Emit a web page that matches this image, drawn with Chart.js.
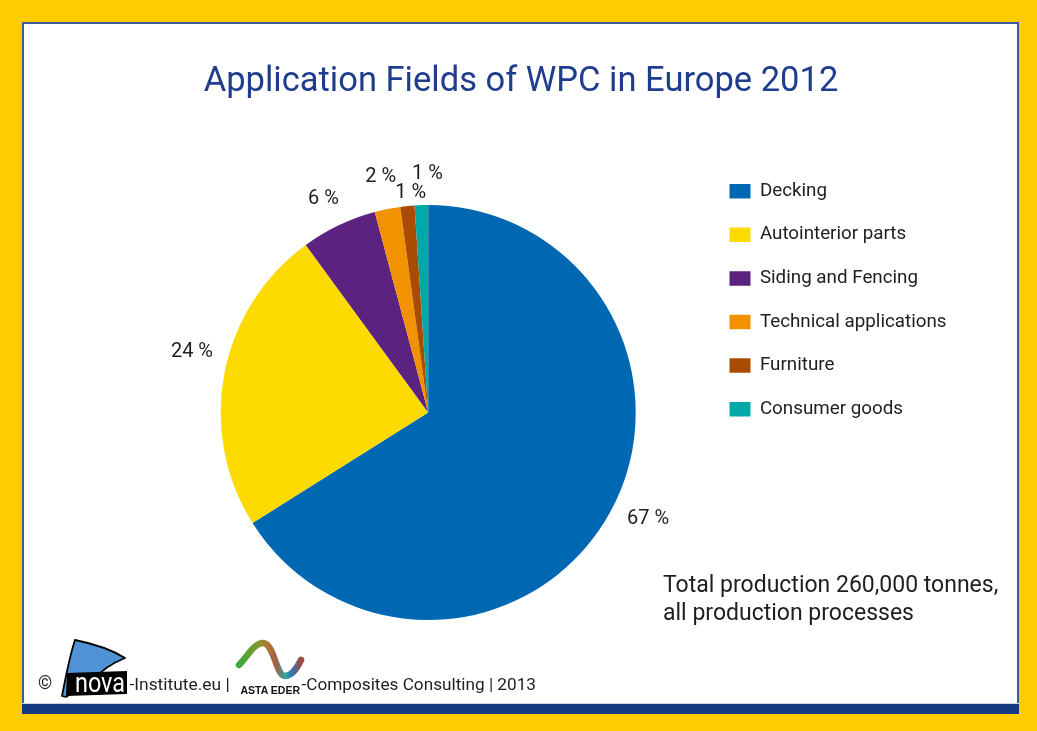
<!DOCTYPE html>
<html>
<head>
<meta charset="utf-8">
<script src="https://cdn.jsdelivr.net/npm/chart.js@4.4.1/dist/chart.umd.min.js"></script>
<style>
  html, body { margin:0; padding:0; width:1037px; height:731px; overflow:hidden; background:#FFCC00; }
  #panel { position:absolute; left:22px; top:22px; width:997px; height:692px; box-sizing:border-box;
           background:#fff; border-left:2px solid #3d5c9c; border-top:2px solid #3d5c9c; border-right:2px solid #3d5c9c; }
  #band { position:absolute; left:22px; top:703px; width:997px; height:11px; background:#163a82; border-top:1px solid #c9cfe0; box-sizing:border-box; }
  #chartWrap { position:absolute; left:0; top:0; width:1037px; height:731px; }
  .txt { position:absolute; font-family:Roboto, sans-serif; color:#1e1e1e; white-space:nowrap; }
</style>
</head>
<body>
<div id="panel"></div>
<div id="band"></div>
<div id="chartWrap"><canvas id="c" width="1037" height="731"></canvas></div>

<div class="txt" style="left:663px; top:571px; font-size:23px; line-height:27.5px;">Total production 260,000 tonnes,<br>all production processes</div>

<div class="txt" style="left:38px; top:673px; font-size:18px; line-height:20px;">©</div>
<svg style="position:absolute; left:40px; top:630px;" width="92" height="70" viewBox="0 0 92 70">
  <path d="M22,66 C26,45 30,25 35,10 C55,14 72,20 85,28 C70,34 60,42 53,50 L26,67 Z" fill="#4f93d6" stroke="#000" stroke-width="1.8" stroke-linejoin="round"/>
  <path d="M27,43 L87,41 L87,64 L26,66 Z" fill="#000"/>
  <text x="35" y="61.5" font-family="Roboto, sans-serif" font-size="27" fill="#fff" textLength="50" lengthAdjust="spacingAndGlyphs">nova</text>
</svg>
<div class="txt" style="left:129.5px; top:673.5px; font-size:17.4px; line-height:20px;">-Institute.eu |</div>
<svg style="position:absolute; left:230px; top:636px;" width="80" height="48" viewBox="0 0 80 48">
  <defs>
    <linearGradient id="wg" gradientUnits="userSpaceOnUse" x1="9" y1="0" x2="71" y2="0">
      <stop offset="0" stop-color="#3aaa3c"/>
      <stop offset="0.3" stop-color="#7e9a2c"/>
      <stop offset="0.45" stop-color="#b0782e"/>
      <stop offset="0.6" stop-color="#a0604a"/>
      <stop offset="0.75" stop-color="#2aa6a0"/>
      <stop offset="0.87" stop-color="#3a6fb0"/>
      <stop offset="1" stop-color="#a04a3a"/>
    </linearGradient>
  </defs>
  <path d="M9,29 C18,20 24,7 33,7 C44,7 46,40 55,40 C63,40 68,30 71,24" fill="none" stroke="url(#wg)" stroke-width="6.5" stroke-linecap="round"/>
</svg>
<div class="txt" style="left:240.5px; top:684.3px; font-size:10.5px; font-weight:bold; font-family:'Liberation Sans Narrow','Liberation Sans',sans-serif; line-height:12px; color:#111;">ASTA EDER</div>
<div class="txt" style="left:301.5px; top:673.5px; font-size:17.2px; line-height:20px;">-Composites Consulting | 2013</div>

<script>
const categories = ["Decking", "Autointerior parts", "Siding and Fencing", "Technical applications", "Furniture", "Consumer goods"];
const shares = [66.1, 23.9, 5.9, 2.0, 1.1, 1.05];
const shareLabels = ["67 %", "24 %", "6 %", "2 %", "1 %", "1 %"];
const sliceColors = ["#0068B3", "#FDDB00", "#5C2280", "#F39200", "#A94B00", "#00A9A6"];
const titleText = "Application Fields of WPC in Europe 2012";

const pctLabels = {
  id: 'pctLabels',
  afterDatasetsDraw(chart, args, opts) {
    const ctx = chart.ctx;
    const meta = chart.getDatasetMeta(0);
    ctx.save();
    ctx.font = opts.font;
    ctx.fillStyle = opts.color;
    ctx.textAlign = 'center';
    ctx.textBaseline = 'middle';
    meta.data.forEach((arc, i) => {
      const p = arc.getProps(['x', 'y', 'startAngle', 'endAngle', 'outerRadius'], true);
      const a = (p.startAngle + p.endAngle) / 2 + opts.angleNudge[i] * Math.PI / 180;
      const r = p.outerRadius + opts.radialOffset[i];
      ctx.fillText(shareLabels[i], p.x + Math.cos(a) * r, p.y + Math.sin(a) * r + opts.dy);
    });
    ctx.restore();
  }
};

// empty layout box on the left, so the pie sits left of centre while the title stays centred
const leftSpacer = {
  id: 'leftSpacer',
  beforeInit(chart, args, opts) {
    const w = (opts && opts.width) || 0;
    const box = {
      position: 'left', weight: 5, fullSize: false, options: {},
      top: 0, left: 0, right: 0, bottom: 0, width: 0, height: 0,
      isHorizontal() { return false; },
      update(maxWidth, maxHeight) { this.width = w; this.height = maxHeight; },
      getPadding() { return { top: 0, left: 0, right: 0, bottom: 0 }; },
      draw() {}
    };
    Chart.layouts.addBox(chart, box);
  }
};

new Chart(document.getElementById('c'), {
  type: 'pie',
  data: {
    labels: categories,
    datasets: [{
      data: shares,
      backgroundColor: sliceColors,
      borderWidth: 0
    }]
  },
  options: {
    responsive: false,
    animation: false,
    devicePixelRatio: 1,
    radius: 207.5,
    layout: { padding: { top: 32, left: 92.3, right: 87.3, bottom: 63 } },
    plugins: {
      tooltip: { enabled: false },
      leftSpacer: { width: 59.4 },
      title: {
        display: true,
        fullSize: true,
        text: titleText,
        color: '#1f3d8c',
        font: { family: 'Roboto', size: 34.5, weight: 'normal', lineHeight: 1.2 },
        padding: { top: 29.3, bottom: 54.3 }
      },
      legend: {
        position: 'right',
        align: 'start',
        fullSize: false,
        maxWidth: 245,
        labels: {
          color: '#1e1e1e',
          font: { family: 'Roboto', size: 18.8 },
          boxWidth: 21,
          boxHeight: 14.5,
          padding: 24.8
        }
      },
      pctLabels: {
        font: '20px Roboto',
        color: '#1e1e1e',
        dy: 1.5,
        radialOffset: [36.3, 36.8, 31.9, 34.3, 14, 33],
        angleNudge: [-3.3, 3.9, -0.4, 0, 1.2, 1.7]
      }
    }
  },
  plugins: [leftSpacer, pctLabels]
});
</script>
</body>
</html>
